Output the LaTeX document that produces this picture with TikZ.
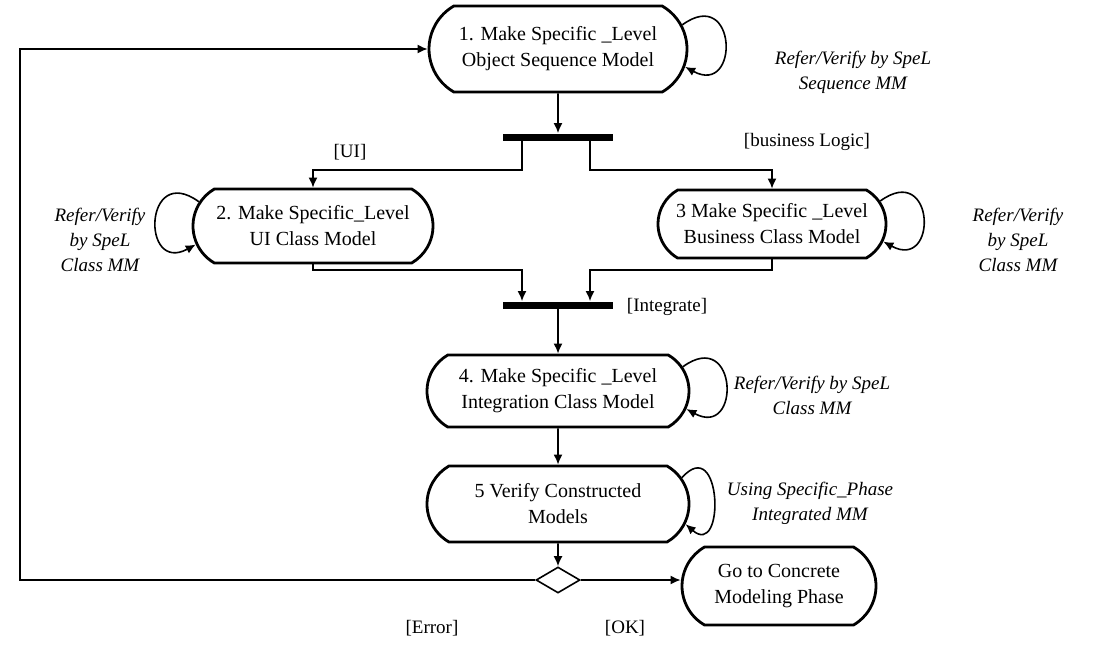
\documentclass[tikz,border=0pt]{standalone}
\usepackage{fontspec}
\setmainfont{Liberation Serif}
\usetikzlibrary{shapes.misc,shapes.geometric,arrows.meta}

\begin{document}
\begin{tikzpicture}[x=0.5pt,y=-0.5pt,
  act/.style={draw, line width=1.4pt, rounded rectangle, rounded rectangle arc length=120,
    align=center, font=\fontsize{10}{13}\selectfont, inner sep=2pt},
  bar/.style={fill, minimum height=3.5pt, inner sep=0pt, minimum width=55pt},
  flow/.style={line width=0.8pt, -{Latex[length=5pt,width=4.5pt]}},
  note/.style={font=\fontsize{9.5}{12.5}\selectfont\itshape, align=center},
  guard/.style={font=\fontsize{9.5}{12}\selectfont},
]
\useasboundingbox (0,0) rectangle (1102,644);

% activities
\node[act, minimum width=133pt, minimum height=43pt] (n1) at (558,49) {1. Make Specific \_Level\\Object Sequence Model};
\node[act, minimum width=124pt, minimum height=37pt] (n2) at (313,226) {2. Make Specific\_Level\\UI Class Model};
\node[act, minimum width=118pt, minimum height=34pt] (n3) at (772,224) {3 Make Specific \_Level\\Business Class Model};
\node[act, minimum width=135pt, minimum height=36pt] (n4) at (558,391) {4. Make Specific \_Level\\Integration Class Model};
\node[act, minimum width=135pt, minimum height=38pt] (n5) at (558,504) {5 Verify Constructed\\Models};
\node[act, minimum width=101pt, minimum height=39pt] (n6) at (779,586) {Go to Concrete\\Modeling Phase};

% fork / join bars and decision
\node[bar] (b1) at (558,137) {};
\node[bar] (b2) at (558,305) {};
\node[draw, diamond, line width=0.8pt, minimum width=22pt, minimum height=13pt, inner sep=0pt] (d) at (558,580) {};

% routing points
\coordinate (ui) at (313,170);
\coordinate (bl) at (772,170);
\coordinate (jl) at (313,270);
\coordinate (jr) at (772,270);
\coordinate (lx) at (20,0);

% main flow
\draw[flow] (n1) -- (b1);
\draw[flow] ([xshift=-18pt]b1.south) |- (ui) -- (n2.north);
\draw[flow] ([xshift=16pt]b1.south) |- (bl) -- (n3.north);
\draw[flow] (n2.south) -- (jl) -| ([xshift=-18pt]b2.north);
\draw[flow] (n3.south) -- (jr) -| ([xshift=16pt]b2.north);
\draw[flow] (b2) -- (n4);
\draw[flow] (n4) -- (n5);
\draw[flow] (n5) -- (d);
\draw[flow] (d) -- (d -| n6.west);
\draw[flow] (d.west) -- (d.west -| lx) |- (n1.west);

% self loops
\draw[flow] (n1.11) .. controls +(55,-40) and +(55,30) .. (n1.-8);
\draw[flow] (n2.168) .. controls +(-55,-40) and +(-55,30) .. (n2.-171);
\draw[flow] (n3.12) .. controls +(55,-40) and +(55,30) .. (n3.-9);
\draw[flow] (n4.11) .. controls +(55,-40) and +(55,30) .. (n4.-8);
\draw[flow] (n5.12) .. controls +(40,-45) and +(40,35) .. (n5.-9);

% notes
\node[note] (l1) at (853,72) {Refer/Verify by SpeL\\Sequence MM};
\node[note] (l2) at (100,240) {Refer/Verify\\by SpeL\\Class MM};
\node[note] (l3) at (1018,240) {Refer/Verify\\by SpeL\\Class MM};
\node[note] (l4) at (812,395) {Refer/Verify by SpeL\\Class MM};
\node[note] (l5) at (810,503) {Using Specific\_Phase\\Integrated MM};

% guards
\node[guard] (g1) at (350,152) {[UI]};
\node[guard] (g2) at (807,142) {[business Logic]};
\node[guard] (g3) at (667,307) {[Integrate]};
\node[guard] (g4) at (432,628) {[Error]};
\node[guard] (g5) at (625,628) {[OK]};
\end{tikzpicture}
\end{document}
